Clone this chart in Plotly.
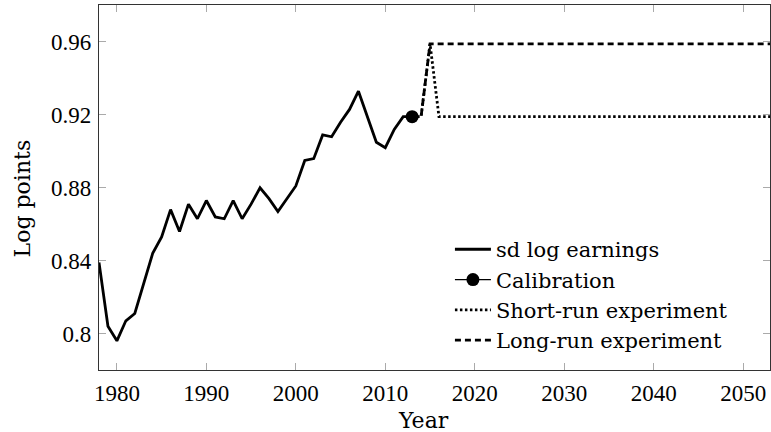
import plotly.graph_objects as go

# sd log earnings (annual)
years = [1978, 1979, 1980, 1981, 1982, 1983, 1984, 1985, 1986, 1987, 1988, 1989,
         1990, 1991, 1992, 1993, 1994, 1995, 1996, 1997, 1998, 1999, 2000, 2001,
         2002, 2003, 2004, 2005, 2006, 2007, 2008, 2009, 2010, 2011, 2012, 2013]
sd_log_earnings = [0.839, 0.804, 0.796, 0.807, 0.811, 0.828, 0.844, 0.853, 0.868, 0.856,
                   0.871, 0.863, 0.873, 0.864, 0.863, 0.873, 0.863, 0.871, 0.880, 0.874,
                   0.867, 0.874, 0.881, 0.895, 0.896, 0.909, 0.908, 0.916, 0.923, 0.933,
                   0.919, 0.905, 0.902, 0.912, 0.919, 0.919]

calib_year = [2013]
calib_value = [0.919]

short_years = [2013, 2014, 2015, 2016, 2060]
short_values = [0.919, 0.919, 0.959, 0.919, 0.919]

long_years = [2013, 2014, 2015, 2060]
long_values = [0.919, 0.919, 0.959, 0.959]

x_ticks = [1980, 1990, 2000, 2010, 2020, 2030, 2040, 2050]
y_ticks = [0.80, 0.84, 0.88, 0.92, 0.96]
y_ticktext = ["0.8", "0.84", "0.88", "0.92", "0.96"]

TICK_FONT = "Liberation Serif"
TEXT_FONT = "DejaVu Serif"

fig = go.Figure()
fig.add_trace(go.Scatter(x=years, y=sd_log_earnings, mode="lines", name="sd log earnings",
                         line=dict(color="black", width=2.8)))
fig.add_trace(go.Scatter(x=calib_year, y=calib_value, mode="lines+markers", name="Calibration",
                         line=dict(color="black", width=1.2),
                         marker=dict(color="black", size=13)))
fig.add_trace(go.Scatter(x=short_years, y=short_values, mode="lines", name="Short-run experiment",
                         line=dict(color="black", width=2.8, dash="2.5px,2.5px")))
fig.add_trace(go.Scatter(x=long_years, y=long_values, mode="lines", name="Long-run experiment",
                         line=dict(color="black", width=2.8, dash="6px,4px")))

axis_common = dict(showgrid=False, zeroline=False, showline=True, linecolor="#333333",
                   linewidth=1.3, mirror="allticks", ticks="inside", ticklen=7,
                   tickcolor="#aaaaaa", tickwidth=1, automargin=False,
                   tickfont=dict(family=TICK_FONT, size=23, color="black"))

fig.update_xaxes(range=[1978, 2053], tickvals=x_ticks, ticklabelstandoff=2, **axis_common)
fig.update_yaxes(range=[0.78, 0.9803], tickvals=y_ticks, ticktext=y_ticktext,
                 ticklabelstandoff=2, **axis_common)

fig.add_annotation(text="Year", x=0.483, y=-0.137, xref="paper", yref="paper",
                   showarrow=False, xanchor="center", yanchor="middle",
                   font=dict(family=TEXT_FONT, size=22, color="black"))
fig.add_annotation(text="Log points", x=-0.1148, y=0.47, xref="paper", yref="paper",
                   textangle=-90, showarrow=False, xanchor="center", yanchor="middle",
                   font=dict(family=TEXT_FONT, size=22, color="black"))

fig.update_layout(
    width=771, height=432,
    margin=dict(l=99, r=1, t=5, b=62),
    paper_bgcolor="white", plot_bgcolor="white",
    showlegend=True,
    legend=dict(x=0.523, y=0.386, xanchor="left", yanchor="top",
                bgcolor="rgba(0,0,0,0)", borderwidth=0,
                font=dict(family=TEXT_FONT, size=21, color="black"),
                tracegroupgap=0, itemwidth=36),
    font=dict(family=TEXT_FONT, color="black"),
)

fig.write_html("out.html", config={"displayModeBar": False},
               post_script="document.body.style.margin='0';document.body.style.overflow='hidden';")
